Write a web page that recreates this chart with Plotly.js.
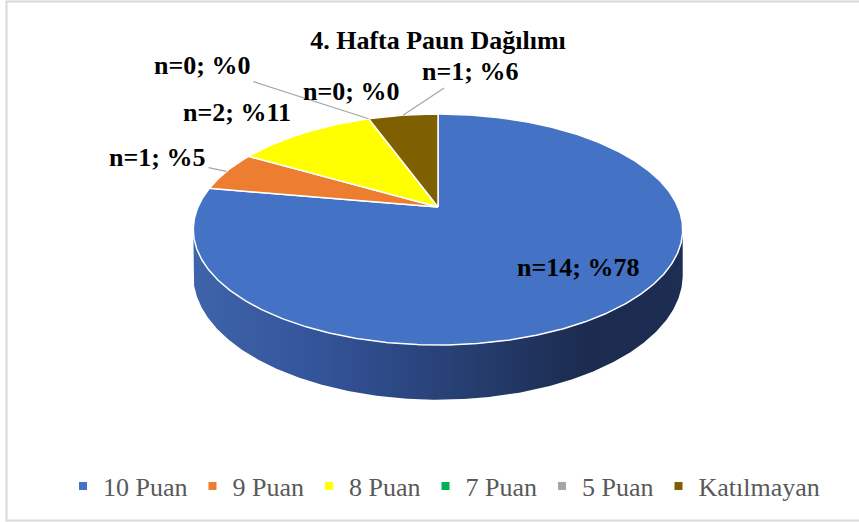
<!DOCTYPE html>
<html>
<head>
<meta charset="utf-8">
<script src="https://cdn.plot.ly/plotly-3.0.1.min.js"></script>
<style>
html,body{margin:0;padding:0;background:#fff;}
#chart{width:859px;height:522px;}
</style>
</head>
<body>
<div id="chart"></div>
<script>
// ---- data ----
const categories = ['10 Puan', '9 Puan', '8 Puan', '7 Puan', '5 Puan', 'Katılmayan'];
const counts = [14, 1, 2, 0, 0, 1];
const percentLabels = ['%78', '%5', '%11', '%0', '%0', '%6'];
const chartTitle = '4. Hafta Paun Dağılımı';

// ---- styles ----
const colors = ['#4472C4', '#ED7D31', '#FFFF00', '#00B050', '#A5A5A5', '#7F6000'];
const FONT = '"Times New Roman", "Liberation Serif", "DejaVu Serif", serif';

// 3D pie projection constants (pixels)
const CX = 438, AY = 207, RB = 240, RA = 111.1, P = 0.195, H = 44;
function proj(deg, depth) {
  const t = deg * Math.PI / 180;
  const u = Math.sin(t), v = Math.cos(t);
  const s = 1 / (1 + P * v);
  return [CX + RB * u * s, AY - RA * v * s + depth * s];
}
function arc(a0, a1, depth) {
  const pts = [];
  const n = Math.max(2, Math.ceil(Math.abs(a1 - a0) / 0.5));
  for (let k = 0; k <= n; k++) pts.push(proj(a0 + (a1 - a0) * k / n, depth));
  return pts;
}

const total = counts.reduce((a, b) => a + b, 0);
const starts = [], ends = [];
let acc = 0;
counts.forEach(c => { starts.push(acc / total * 360); acc += c; ends.push(acc / total * 360); });

const traces = [];
// side walls (front, visible part)
const thR = Math.acos(-P) * 180 / Math.PI;
const thL = 360 - thR;
const xL = proj(thL, 0)[0], xR = proj(thR, 0)[0];
counts.forEach((c, i) => {
  if (c <= 0) return;
  const lo = Math.max(starts[i], thR), hi = Math.min(ends[i], thL);
  if (lo >= hi) return;
  const pts = arc(lo, hi, 0).concat(arc(hi, lo, H));
  traces.push({
    type: 'scatter', mode: 'lines', x: pts.map(p => p[0]), y: pts.map(p => p[1]),
    fill: 'toself', line: {width: 0, color: 'rgba(0,0,0,0)'},
    fillgradient: {type: 'horizontal', start: xL, stop: xR,
      colorscale: [[0, '#3E64A9'], [0.25, '#34549A'], [0.55, '#263F72'], [0.8, '#1C2B4F'], [1, '#1D2D53']]},
    showlegend: false, hoverinfo: 'skip'
  });
});
// top faces
counts.forEach((c, i) => {
  if (c <= 0) return;
  const pts = [[CX, AY]].concat(arc(starts[i], ends[i], 0));
  pts.push([CX, AY]);
  traces.push({
    type: 'scatter', mode: 'lines', x: pts.map(p => p[0]), y: pts.map(p => p[1]),
    fill: 'toself', fillcolor: colors[i], line: {color: '#FFFFFF', width: 1.5},
    showlegend: false, hoverinfo: 'skip'
  });
});
// legend entries
categories.forEach((name, i) => {
  traces.push({
    type: 'scatter', mode: 'markers', x: [null], y: [null], name: name,
    marker: {symbol: 'square', size: 8, color: colors[i]}, hoverinfo: 'skip'
  });
});

// data labels: text positions (px) and leader targets
const labelPos = [[578, 267], [157, 157], [237, 112], [202, 65], [351, 91], [470, 71]];
const leaderTo = [null, 'mid', null, 'start', null, 'mid'];
const annotations = counts.map((c, i) => {
  const txt = 'n=' + c + '; ' + percentLabels[i];
  const a = {
    text: txt, xref: 'x', yref: 'y', showarrow: false,
    x: labelPos[i][0], y: labelPos[i][1], xanchor: 'center', yanchor: 'middle',
    font: {family: FONT, size: 26, weight: 700, color: '#000000'}
  };
  if (leaderTo[i]) {
    const ang = leaderTo[i] === 'mid' ? (starts[i] + ends[i]) / 2 : starts[i];
    const tp = proj(ang, 0);
    Object.assign(a, {
      showarrow: true, x: tp[0], y: tp[1], axref: 'x', ayref: 'y',
      ax: labelPos[i][0], ay: labelPos[i][1], arrowhead: 0, arrowwidth: 1.2,
      arrowcolor: '#A6A6A6', standoff: 0, startstandoff: 2
    });
  }
  return a;
});

const layout = {
  width: 859, height: 522,
  margin: {l: 0, r: 0, t: 0, b: 0},
  font: {family: FONT},
  paper_bgcolor: '#FFFFFF', plot_bgcolor: '#FFFFFF',
  xaxis: {range: [0, 859], visible: false, fixedrange: true},
  yaxis: {range: [522, 0], visible: false, fixedrange: true},
  title: {text: chartTitle, x: 438 / 859, xanchor: 'center', y: 1 - 40 / 522, yanchor: 'middle',
    font: {family: FONT, size: 26, weight: 700, color: '#000000'}},
  showlegend: true,
  legend: {orientation: 'h', x: 444 / 859, xanchor: 'center', y: 1 - 486 / 522, yanchor: 'middle',
    font: {family: FONT, size: 26, color: '#595959'}, bgcolor: 'rgba(0,0,0,0)', itemclick: false},
  annotations: annotations,
  shapes: [
    {type: 'rect', xref: 'x', yref: 'y', x0: 6.5, x1: 870, y0: 1.5, y1: 520.5,
     line: {color: '#D9D9D9', width: 2}, fillcolor: 'rgba(0,0,0,0)', layer: 'below'}
  ]
};

Plotly.newPlot('chart', traces, layout, {displayModeBar: false, staticPlot: true});
</script>
</body>
</html>
